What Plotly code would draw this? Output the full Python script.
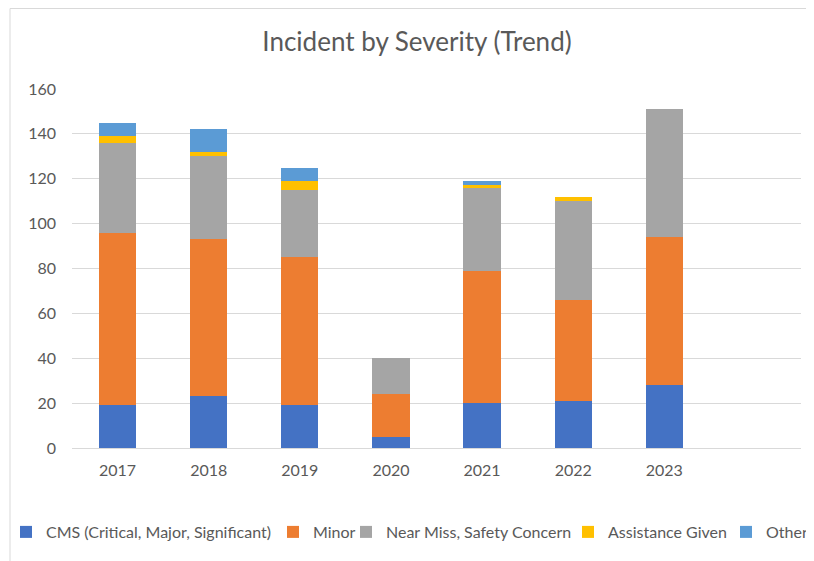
import plotly.graph_objects as go

# Incident counts per year
years = ["2017", "2018", "2019", "2020", "2021", "2022", "2023"]
cms = [19, 23, 19, 5, 20, 21, 28]
minor = [77, 70, 66, 19, 59, 45, 66]
near_miss = [40, 37, 30, 16, 37, 44, 57]
assistance = [3, 2, 4, 0, 1, 2, 0]
other = [6, 10, 6, 0, 2, 0, 0]

names = ["CMS (Critical, Major, Significant)", "Minor", "Near Miss, Safety Concern",
         "Assistance Given", "Other"]
values = [cms, minor, near_miss, assistance, other]
colors = ["#4472C4", "#ED7D31", "#A5A5A5", "#FFC000", "#5B9BD5"]
# where each legend entry's text starts (page pixels from left)
legend_px = [46, 313, 386, 608, 766]

font = "Lato"
grey = "#595959"
# the page body adds an 8px margin, so the figure is drawn 8px in and 8px down
OFF = 8
W, H = 814 - OFF, 561 - OFF
L, T = 72 - OFF, 89 - OFF
R, B = W - (801 - OFF), H - (448 - OFF)
pw, ph = W - L - R, H - T - B

fig = go.Figure()
legends = {}
for i, (name, vals, col) in enumerate(zip(names, values, colors)):
    key = "legend" if i == 0 else "legend%d" % (i + 1)
    fig.add_trace(go.Bar(x=years, y=vals, name=name, marker_color=col,
                         marker_line_width=0, legend=key))
    legends[key] = dict(orientation="h", x=(legend_px[i] - OFF - 40 - L) / pw,
                        xanchor="left",
                        y=(ph - (532 - OFF - T)) / ph, yanchor="middle",
                        font=dict(family=font, size=16, color=grey),
                        bgcolor="rgba(0,0,0,0)", itemwidth=30)

fig.update_layout(
    barmode="stack",
    bargap=0.59,
    width=W, height=H,
    margin=dict(l=L, r=R, t=T, b=B, autoexpand=False),
    paper_bgcolor="white", plot_bgcolor="white",
    font=dict(family=font, color=grey, size=16),
    title=dict(text="Incident by Severity (Trend)", x=(417 - OFF) / W, xanchor="center",
               y=1 - (42 - OFF) / H, yanchor="middle",
               font=dict(family=font, size=26, color=grey)),
    showlegend=True,
    **legends,
)
fig.update_xaxes(type="category", range=[-0.5, 7.5], showgrid=False,
                 showline=True, linecolor="#D9D9D9", ticks="",
                 tickfont=dict(size=16, color=grey), ticklabelstandoff=8)
fig.update_yaxes(range=[0, 160], dtick=20, showgrid=True, gridcolor="#D9D9D9",
                 zeroline=False, showline=False, ticks="",
                 tickfont=dict(size=16, color=grey), ticklabelstandoff=15)

# light frame around the chart area, like the source image
fig.add_shape(type="rect", xref="paper", yref="paper",
              x0=(10 - OFF - L) / pw, x1=(830 - L) / pw,
              y0=(ph - (580 - T)) / ph, y1=(ph - (0.5 - T)) / ph,
              line=dict(color="#D9D9D9", width=1), fillcolor="rgba(0,0,0,0)",
              layer="below")

fig.write_html("out.html")
